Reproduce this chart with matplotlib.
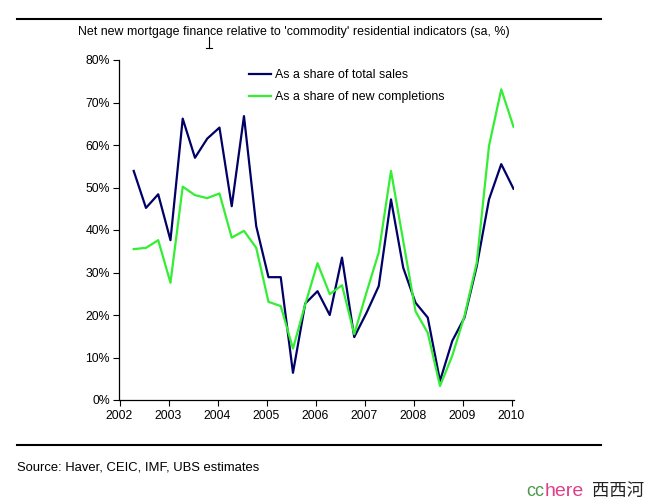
import numpy as np
import matplotlib
matplotlib.use('Agg')
import matplotlib.pyplot as plt
from matplotlib.lines import Line2D

plt.rcParams['font.family'] = ['Liberation Sans', 'DejaVu Sans']

# quarterly data, 2002Q2 .. 2010Q1
quarters = 2002.29 + 0.25 * np.arange(32)
share_total_sales = [53.9, 45.2, 48.4, 37.6, 66.2, 57.0, 61.5, 64.1, 45.6, 66.8,
                     40.9, 28.9, 28.9, 6.4, 22.7, 25.6, 20.0, 33.5, 14.8, 20.5,
                     26.8, 47.2, 31.1, 22.9, 19.4, 4.5, 13.9, 19.4, 31.5, 47.2,
                     55.5, 49.7]
share_new_completions = [35.5, 35.8, 37.6, 27.6, 50.2, 48.2, 47.5, 48.6, 38.2, 39.8,
                         35.8, 23.1, 22.1, 12.1, 22.5, 32.2, 24.9, 27.0, 15.5, 25.3,
                         34.7, 53.9, 37.4, 20.9, 15.8, 3.3, 10.4, 19.8, 32.3, 59.8,
                         73.1, 64.3]
years = list(range(2002, 2011))
yticks = list(range(0, 90, 10))

W, H = 648, 503
fig = plt.figure(figsize=(W / 100, H / 100), dpi=100)
ax = fig.add_axes([119.5 / W, 1 - 400 / H, 394.5 / W, 340 / H])

ax.plot(quarters, share_total_sales, color='#000066', lw=1.6, label='As a share of total sales')
ax.plot(quarters, share_new_completions, color='#33ee33', lw=1.6, label='As a share of new completions')

ax.set_xlim(2002, 2010.05)
ax.set_ylim(0, 80)
ax.set_xticks(years)
ax.set_xticklabels([str(y) for y in years], fontsize=8.8)
ax.set_yticks(yticks)
ax.set_yticklabels(['%d%%' % v for v in yticks], fontsize=8.8)
ax.tick_params(direction='out', length=4, width=0.8, pad=3)
for s in ['top', 'right']:
    ax.spines[s].set_visible(False)
for s in ['left', 'bottom']:
    ax.spines[s].set_linewidth(0.9)

ax.legend(loc='upper left', bbox_to_anchor=((249 - 119.5) / 394.5, (400 - 69) / 340),
          frameon=False, fontsize=8.9, borderpad=0, borderaxespad=0,
          handlelength=1.8, handletextpad=0.3, labelspacing=0.8)

# frame lines, title, source
fig.add_artist(Line2D([17 / W, 601 / W], [1 - 19 / H, 1 - 19 / H], color='black', lw=1.5))
fig.add_artist(Line2D([17 / W, 601 / W], [1 - 444.5 / H, 1 - 444.5 / H], color='black', lw=1.5))
fig.text(78 / W, 1 - 32.5 / H, "Net new mortgage finance relative to 'commodity' residential indicators (sa, %)",
         fontsize=8.9, va='center', ha='left')
fig.text(17 / W, 1 - 467 / H, 'Source: Haver, CEIC, IMF, UBS estimates',
         fontsize=9.4, va='center', ha='left')

# text cursor left in the screenshot
fig.add_artist(Line2D([208.5 / W, 208.5 / W], [1 - 37 / H, 1 - 48 / H], color='black', lw=0.8))
fig.add_artist(Line2D([205.5 / W, 211.5 / W], [1 - 48 / H, 1 - 48 / H], color='black', lw=0.8))

# watermark
fig.text(526 / W, 1 - 491 / H, 'cc', fontsize=13, color='#4d9a4d', va='center', ha='left')
fig.text(545 / W, 1 - 491 / H, 'here', fontsize=14, color='#e0408a', va='center', ha='left')
fig.text(592 / W, 1 - 491 / H, '西西河', fontsize=12.5, color='#222222', va='center', ha='left',
         family=['Noto Sans CJK SC', 'DejaVu Sans'])

fig.savefig('out.png', dpi=100)
